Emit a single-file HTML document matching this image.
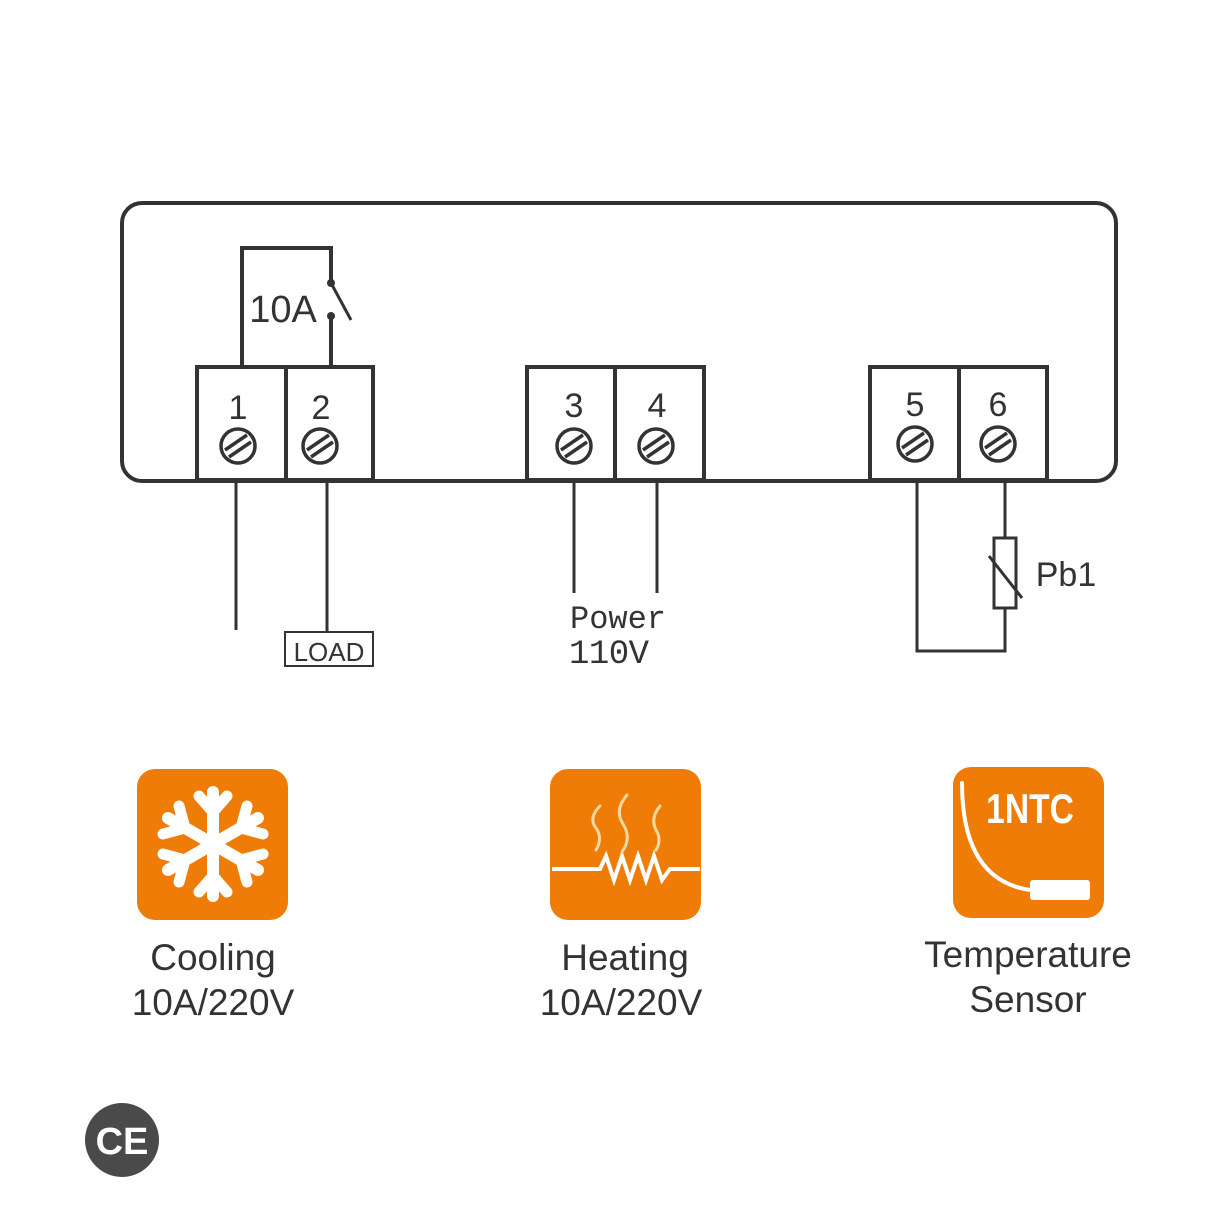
<!DOCTYPE html>
<html><head><style>body{margin:0;background:#fff}svg{display:block}</style></head><body>
<svg width="1230" height="1230" viewBox="0 0 1230 1230" xmlns="http://www.w3.org/2000/svg" font-family="Liberation Sans, sans-serif">
<g fill="none" stroke="#333" stroke-width="4">
<rect x="122" y="203" width="994" height="278" rx="20"/>
<rect x="197" y="367" width="176" height="113" fill="#fff"/><line x1="286" y1="367" x2="286" y2="480"/>
<rect x="527" y="367" width="177" height="113" fill="#fff"/><line x1="615" y1="367" x2="615" y2="480"/>
<rect x="870" y="367" width="177" height="113" fill="#fff"/><line x1="959" y1="367" x2="959" y2="480"/>
<polyline points="242,367 242,248 331,248 331,283"/>
<line x1="331" y1="283" x2="351" y2="320" stroke-width="3"/>
<line x1="331" y1="316" x2="331" y2="367"/>
<line x1="236" y1="482" x2="236" y2="630" stroke-width="3"/>
<line x1="327" y1="482" x2="327" y2="632" stroke-width="3"/>
<line x1="574" y1="482" x2="574" y2="593" stroke-width="3"/>
<line x1="657" y1="482" x2="657" y2="593" stroke-width="3"/>
<polyline points="917,482 917,651 1005,651 1005,608" stroke-width="3"/>
<line x1="1005" y1="482" x2="1005" y2="538" stroke-width="3"/>
<rect x="994" y="538" width="22" height="70" stroke-width="3"/>
<line x1="989" y1="556" x2="1022" y2="598" stroke-width="3"/>
<rect x="285" y="632" width="88" height="34" stroke-width="2"/>
</g>
<g fill="#fff" stroke="#333" stroke-width="3.5">
<circle cx="238" cy="446" r="17"/><circle cx="320" cy="446" r="17"/>
<circle cx="574" cy="446" r="17"/><circle cx="656" cy="446" r="17"/>
<circle cx="915" cy="444" r="17"/><circle cx="998" cy="444" r="17"/>
</g>
<g stroke="#333" stroke-width="3.5">
<path d="M225 450L247 435M229 457L251 442M307 450L329 435M311 457L333 442M561 450L583 435M565 457L587 442M643 450L665 435M647 457L669 442M902 448L924 433M906 455L928 440M985 448L1007 433M989 455L1011 440"/>
</g>
<circle cx="331" cy="283" r="4" fill="#333"/><circle cx="331" cy="316" r="4" fill="#333"/>
<g fill="#333" font-size="34" text-anchor="middle">
<text x="238" y="419">1</text><text x="321" y="419">2</text>
<text x="574" y="417">3</text><text x="657" y="417">4</text>
<text x="915" y="416">5</text><text x="998" y="416">6</text>
<text x="283" y="322" font-size="38">10A</text>
<text x="1066" y="586" font-size="34">Pb1</text>
<text x="329" y="661" font-size="26">LOAD</text>
<text x="618" y="628" font-size="32" font-family="Liberation Mono, monospace" textLength="96">Power</text>
<text x="609" y="663" font-size="34" font-family="Liberation Mono, monospace" textLength="80">110V</text>
</g>
<g fill="#ee7c06">
<rect x="137" y="769" width="151" height="151" rx="18"/>
<rect x="550" y="769" width="151" height="151" rx="18"/>
<rect x="953" y="767" width="151" height="151" rx="18"/>
</g>
<g stroke="#fff" stroke-linecap="round" fill="none">
<g stroke-width="12" transform="translate(213,844)">
<line x1="0" y1="-52" x2="0" y2="52"/><line x1="-45" y1="-26" x2="45" y2="26"/><line x1="-45" y1="26" x2="45" y2="-26"/>
<g stroke-width="11"><path d="M-14,-48 L0,-32 L14,-48M-14,48 L0,32 L14,48"/>
<path d="M-50,-10 L-28,-16 L-34,-38M50,10 L28,16 L34,38M-50,10 L-28,16 L-34,38M50,-10 L28,-16 L34,-38"/></g>
</g>
<path d="M552 869H600L606 856L614 880L622 856L630 880L638 856L646 880L654 856L662 880L670 869H700" stroke-width="4" stroke-linecap="butt"/>
<path d="M600 806Q588 818 596 828Q603 838 596 850M627 795Q614 810 623 824Q632 838 622 852M660 806Q650 818 656 830Q662 840 656 850" stroke="#f6d9a0" stroke-width="3"/>
<path d="M962 783Q962 880 1030 890" stroke-width="4"/>
</g>
<rect x="1030" y="880" width="60" height="20" rx="3" fill="#fff"/>
<text x="1030" y="823" fill="#fff" font-size="42" font-weight="bold" text-anchor="middle" transform="translate(1030,0) scale(0.8,1) translate(-1030,0)">1NTC</text>
<g fill="#333" font-size="37" text-anchor="middle">
<text x="213" y="970">Cooling</text><text x="213" y="1015">10A/220V</text>
<text x="625" y="970">Heating</text><text x="621" y="1015">10A/220V</text>
<text x="1028" y="967">Temperature</text><text x="1028" y="1012">Sensor</text>
</g>
<circle cx="122" cy="1140" r="37" fill="#4a4a4a"/>
<text x="122" y="1154" fill="#fff" font-size="38" font-weight="bold" text-anchor="middle">CE</text>
</svg>
</body></html>
